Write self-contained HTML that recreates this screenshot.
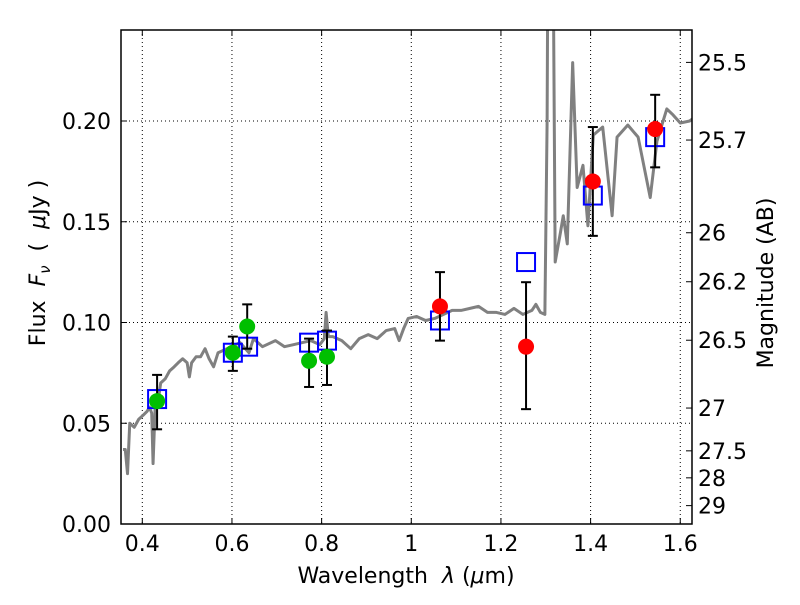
<!DOCTYPE html>
<html><head><meta charset="utf-8"><style>
body{margin:0;background:#fff}
svg text{font-family:"DejaVu Sans","Liberation Sans",sans-serif;font-size:22px;fill:#000}
</style></head><body>
<svg id="c" width="800" height="600" xmlns="http://www.w3.org/2000/svg"></svg>
<script>
const specLam=[0.357,0.362,0.367,0.372,0.382,0.392,0.402,0.411,0.416,0.421,0.424,0.429,0.436,0.441,0.451,0.461,0.471,0.480,0.490,0.500,0.505,0.510,0.520,0.530,0.540,0.549,0.559,0.569,0.579,0.599,0.618,0.638,0.648,0.668,0.697,0.717,0.737,0.756,0.776,0.796,0.806,0.810,0.815,0.825,0.845,0.865,0.884,0.904,0.924,0.944,0.963,0.973,0.983,0.993,1.012,1.032,1.052,1.072,1.091,1.111,1.131,1.150,1.170,1.190,1.209,1.229,1.249,1.269,1.278,1.288,1.298,1.303,1.305,1.316,1.321,1.333,1.339,1.348,1.360,1.370,1.383,1.394,1.406,1.427,1.448,1.459,1.483,1.506,1.533,1.548,1.570,1.584,1.600,1.621,1.633,1.645];
const specFlux=[0.037,0.037,0.025,0.05,0.048,0.052,0.054,0.056,0.058,0.055,0.03,0.06,0.062,0.07,0.072,0.076,0.078,0.08,0.082,0.08,0.073,0.08,0.083,0.083,0.087,0.082,0.078,0.085,0.086,0.088,0.09,0.085,0.092,0.088,0.091,0.088,0.089,0.09,0.091,0.089,0.092,0.105,0.093,0.093,0.091,0.087,0.092,0.094,0.092,0.096,0.097,0.091,0.097,0.102,0.103,0.101,0.102,0.104,0.106,0.106,0.107,0.108,0.105,0.105,0.104,0.107,0.104,0.106,0.109,0.105,0.104,0.2,0.3,0.3,0.130,0.145,0.153,0.139,0.229,0.167,0.178,0.148,0.193,0.197,0.153,0.192,0.198,0.192,0.162,0.19,0.206,0.203,0.199,0.2,0.202,0.202];
const greenLam=[0.433,0.602,0.634,0.772,0.812];
const greenFlux=[0.061,0.085,0.098,0.081,0.083];
const greenLo=[0.047,0.076,0.087,0.068,0.069];
const greenHi=[0.074,0.093,0.109,0.092,0.096];
const redLam=[1.064,1.256,1.405,1.544];
const redFlux=[0.108,0.088,0.170,0.196];
const redLo=[0.091,0.057,0.143,0.177];
const redHi=[0.125,0.120,0.197,0.213];
const modelLam=[0.433,0.602,0.636,0.772,0.812,1.064,1.256,1.405,1.544];
const modelFlux=[0.062,0.085,0.088,0.090,0.091,0.101,0.130,0.163,0.192];
const xTicks=[0.4,0.6,0.8,1.0,1.2,1.4,1.6];
const xTickLabels=["0.4","0.6","0.8","1","1.2","1.4","1.6"];
const yTicks=[0,0.05,0.10,0.15,0.20];
const yTickLabels=["0.00","0.05","0.10","0.15","0.20"];
const magTicks=[25.5,25.7,26,26.2,26.5,27,27.5,28,29];
const magLabels=["25.5","25.7","26","26.2","26.5","27","27.5","28","29"];

const L=121,R=692,T=30,B=524;
const X=l=>142.3+(l-0.4)*448.3;
const Y=f=>B-f*2015;
const NS="http://www.w3.org/2000/svg";
const svg=document.getElementById('c');
function mk(tag,attrs,name,parent){const e=document.createElementNS(NS,tag);for(const k in attrs)e.setAttribute(k,attrs[k]);


(parent||svg).appendChild(e);return e;}
const clipD=mk('defs',{},'defs');
const cp=mk('clipPath',{id:'cp'},'clip',clipD);mk('rect',{x:L,y:T,width:R-L,height:B-T},'clip-rect',cp);
xTicks.forEach((t,i)=>{const x=X(t);
mk('line',{x1:x,x2:x,y1:T,y2:B,stroke:'#000','stroke-width':1,'stroke-dasharray':'1,3'},'x-grid-line');
mk('line',{x1:x,x2:x,y1:B,y2:B-6,stroke:'#000'},'x-tick');
mk('line',{x1:x,x2:x,y1:T,y2:T+6,stroke:'#000'},'x-tick-top');
const tx=mk('text',{x:x,y:B+27,'text-anchor':'middle'},'x-tick-label');tx.textContent=xTickLabels[i];});
yTicks.forEach((t,i)=>{const y=Y(t);
mk('line',{x1:L,x2:R,y1:y,y2:y,stroke:'#000','stroke-width':1,'stroke-dasharray':'1,3'},'y-grid-line');
mk('line',{x1:L,x2:L+6,y1:y,y2:y,stroke:'#000'},'y-tick');
const tx=mk('text',{x:L-10,y:y+8,'text-anchor':'end'},'y-tick-label');tx.textContent=yTickLabels[i];});
magTicks.forEach((m,i)=>{const f=Math.pow(10,(23.9-m)/2.5);const y=Y(f);
mk('line',{x1:R-6,x2:R,y1:y,y2:y,stroke:'#000'},'mag-tick');
const tx=mk('text',{x:R+6,y:y+8},'mag-tick-label');tx.textContent=magLabels[i];});
const g=mk('g',{'clip-path':'url(#cp)'},'plot-area');
mk('polyline',{points:specLam.map((l,i)=>X(l)+','+Y(specFlux[i])).join(' '),fill:'none',stroke:'#808080','stroke-width':3,'stroke-linejoin':'round'},'model-spectrum',g);
modelLam.forEach((l,i)=>mk('rect',{x:X(l)-9,y:Y(modelFlux[i])-9,width:18,height:18,fill:'none',stroke:'#0000ff','stroke-width':2},'model-photometry-square',g));
function pts(lam,flux,lo,hi,col,nm){lam.forEach((l,i)=>{const x=X(l);
mk('line',{x1:x,x2:x,y1:Y(lo[i]),y2:Y(hi[i]),stroke:'#000','stroke-width':2},nm+'-errorbar',g);
mk('line',{x1:x-5,x2:x+5,y1:Y(lo[i]),y2:Y(lo[i]),stroke:'#000','stroke-width':2},nm+'-errorcap',g);
mk('line',{x1:x-5,x2:x+5,y1:Y(hi[i]),y2:Y(hi[i]),stroke:'#000','stroke-width':2},nm+'-errorcap',g);
mk('circle',{cx:x,cy:Y(flux[i]),r:8,fill:col},nm+'-point',g);});}
pts(greenLam,greenFlux,greenLo,greenHi,'#00bf00','green-obs');
pts(redLam,redFlux,redLo,redHi,'#ff0000','red-obs');
mk('rect',{x:L,y:T,width:R-L,height:B-T,fill:'none',stroke:'#000','stroke-width':1.5},'plot-frame');
let t=mk('text',{x:406,y:583,'text-anchor':'middle'},'x-axis-title');t.innerHTML='Wavelength &#160;<tspan font-style="italic">λ</tspan> (<tspan font-style="italic">μ</tspan>m)';
t=mk('text',{transform:'translate(45,263) rotate(-90)','text-anchor':'middle'},'y-axis-title');t.innerHTML='Flux &#160;<tspan font-style="italic">F</tspan><tspan font-style="italic" font-size="15" dy="5">ν</tspan><tspan dy="-5"> &#160;( &#160;<tspan font-style="italic">μ</tspan>Jy )</tspan>';
t=mk('text',{transform:'translate(773,283) rotate(-90)','text-anchor':'middle'},'right-axis-title');t.textContent='Magnitude (AB)';
</script>
</body></html>
